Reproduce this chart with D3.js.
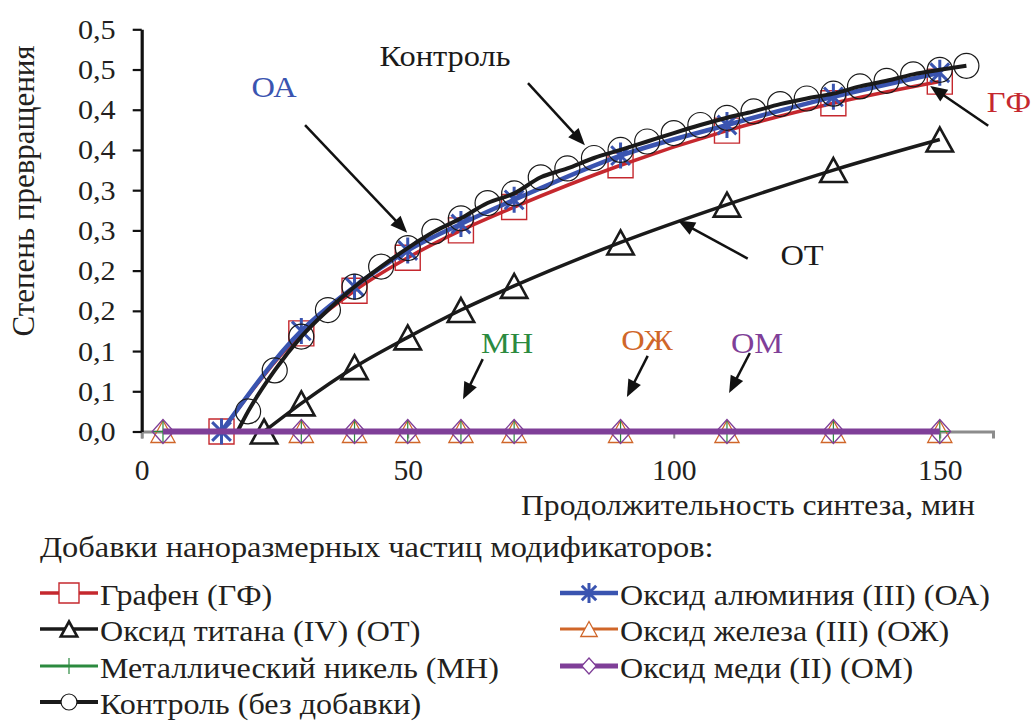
<!DOCTYPE html>
<html><head><meta charset="utf-8">
<script src="https://cdn.jsdelivr.net/npm/d3@7"></script>
<style>
body{margin:0;background:#fff}
svg{display:block}
</style>
</head><body>
<svg id="chart" width="1032" height="722"></svg>
<script>
// ---------------- DATA ----------------
const timeMain = [15, 30, 40, 50, 60, 70, 90, 110, 130, 150];
const valGF = [0, 0.122, 0.175, 0.216, 0.25, 0.279, 0.331, 0.374, 0.408, 0.435];
const valOA = [0, 0.125, 0.18, 0.225, 0.258, 0.288, 0.343, 0.381, 0.416, 0.446];
const timeOT = [23, 30, 40, 50, 60, 70, 90, 110, 130, 150];
const valOT = [0, 0.035, 0.08, 0.117, 0.151, 0.181, 0.235, 0.282, 0.325, 0.363];
const timeFlat = [4, 30, 40, 50, 60, 70, 90, 110, 130, 150];
const valOZh = [0, 0, 0, 0, 0, 0, 0, 0, 0, 0];
const valMN = [0, 0, 0, 0, 0, 0, 0, 0, 0, 0];
const valOM = [0, 0, 0, 0, 0, 0, 0, 0, 0, 0];
const timeControl = [20, 25, 30, 35, 40, 45, 50, 55, 60, 65, 70, 75, 80, 85, 90, 95, 100, 105, 110, 115, 120, 125, 130, 135, 140, 145, 150, 155];
const valControl = [0.025, 0.076, 0.118, 0.151, 0.18, 0.205, 0.228, 0.2485, 0.265, 0.284, 0.296, 0.316, 0.327, 0.34, 0.35, 0.3605, 0.371, 0.381, 0.39, 0.398, 0.407, 0.414, 0.42, 0.429, 0.436, 0.444, 0.4496, 0.4546];
const controlLineStart = [18, 0]; // where the drawn control curve leaves the axis

const xTicks = [0, 50, 100, 150];
const xTickLabels = ["0", "50", "100", "150"];
const yTicks = [0, 0.05, 0.1, 0.15, 0.2, 0.25, 0.3, 0.35, 0.4, 0.45, 0.5];
const yTickLabels = ["0,0", "0,1", "0,1", "0,2", "0,2", "0,3", "0,3", "0,4", "0,4", "0,5", "0,5"];

const xTitle = "Продолжительность синтеза, мин";
const yTitle = "Степень превращения";
const legendTitle = "Добавки наноразмерных частиц модификаторов:";
const seriesNames = ["Графен (ГФ)", "Оксид алюминия (III) (ОА)", "Оксид титана (IV) (ОТ)", "Оксид железа (III) (ОЖ)", "Металлический никель (МН)", "Оксид меди (II) (ОМ)", "Контроль (без добавки)"];
const annoLabels = ["Контроль", "ОА", "ГФ", "ОТ", "МН", "ОЖ", "ОМ"];

// ---------------- LAYOUT ----------------
const FONT = '"Liberation Serif"';
const TXT = "#231f20";
const svg = d3.select("#chart");
const x = d3.scaleLinear().domain([0, 160]).range([141.7, 993]);
const y = d3.scaleLinear().domain([0, 0.5]).range([431.5, 29.3]);

const C = {
  red: "#c5282e", blue: "#3a54b0", black: "#1a1a1a", orange: "#d06629",
  green: "#2b8a3f", purple: "#7f3f98"
};

const zip = (xs, ys) => xs.map((t, i) => [t, ys[i]]);
// text placed at (px,py), slightly widened horizontally like the reference typesetting
function label(parent, str, px, py, size, sx, anchor, color) {
  return parent.append("text")
    .attr("transform", `translate(${px},${py}) scale(${sx},1)`)
    .attr("font-family", FONT).attr("font-size", size)
    .attr("fill", color || TXT).attr("text-anchor", anchor || "start").text(str);
}

const shapes = {
  square: s => `M${-s/2},${-s/2}h${s}v${s}h${-s}Z`,
  triangle: s => `M0,${-s/2}L${s*0.55},${s/2}L${-s*0.55},${s/2}Z`,
  diamond: s => `M0,${-s/2}L${s*0.45},0L0,${s/2}L${-s*0.45},0Z`,
  plus: s => `M0,${-s/2}V${s/2}M${-s/2},0H${s/2}`,
  asterisk: s => { const h = s/2, d = s*0.36; return `M0,${-h}V${h}M${-d},${-d}L${d},${d}M${-d},${d}L${d},${-d}`; },
  circle: s => { const r = s/2; return `M${r},0A${r},${r} 0 1,1 ${-r},0A${r},${r} 0 1,1 ${r},0Z`; }
};

const series = [
  { name: seriesNames[0], pts: zip(timeMain, valGF), color: C.red, lw: 3.5, shape: "square", size: 25, mw: 1.4, lsize: 20 },
  { name: seriesNames[1], pts: zip(timeMain, valOA), color: C.blue, lw: 4.5, shape: "asterisk", size: 26, mw: 3, lsize: 20 },
  { name: seriesNames[2], pts: zip(timeOT, valOT), color: C.black, lw: 3.5, shape: "triangle", size: 24, mw: 2.6, lsize: 15 },
  { name: seriesNames[3], pts: zip(timeFlat, valOZh), color: C.orange, lw: 0, shape: "triangle", size: 22, mw: 1.3, lsize: 15 },
  { name: seriesNames[4], pts: zip(timeFlat, valMN), color: C.green, lw: 0, shape: "plus", size: 22, mw: 1.2, lsize: 16 },
  { name: seriesNames[5], pts: zip(timeFlat, valOM), color: C.purple, lw: 6, shape: "diamond", size: 24, mw: 1.3, lsize: 16 },
  { name: seriesNames[6], pts: zip(timeControl, valControl), color: C.black, lw: 4, shape: "circle", size: 25, mw: 1.2, lsize: 16,
    linePts: [controlLineStart].concat(zip(timeControl, valControl)) }
];

// ---------------- AXES ----------------
const gx = svg.append("g").attr("transform", `translate(0,${y(0)})`)
  .call(d3.axisBottom(x).tickValues(xTicks).tickFormat((d, i) => xTickLabels[i]).tickSize(7).tickPadding(20));
gx.attr("font-family", FONT).attr("font-size", 29);
gx.select(".domain").attr("stroke", "#8c8c8c").attr("stroke-width", 3);
gx.selectAll(".tick line").attr("stroke", "#8c8c8c").attr("stroke-width", 2);
gx.selectAll(".tick text").attr("font-family", FONT).attr("font-size", 29).attr("fill", TXT)
  .attr("y", null).attr("dy", null).attr("transform", "translate(0,48) scale(1.02,1)");

const gy = svg.append("g").attr("transform", `translate(${x(0)},0)`)
  .call(d3.axisLeft(y).tickValues(yTicks).tickFormat((d, i) => yTickLabels[i]).tickSize(9).tickSizeOuter(0).tickPadding(17));
gy.attr("font-family", FONT).attr("font-size", 27);
gy.select(".domain").attr("stroke", "#111").attr("stroke-width", 3.2);
gy.selectAll(".tick line").attr("stroke", "#111").attr("stroke-width", 2.2);
gy.selectAll(".tick text").attr("font-family", FONT).attr("font-size", 27).attr("fill", TXT)
  .attr("x", null).attr("dy", null).attr("transform", "translate(-26,9) scale(1.12,1)");

svg.append("text").attr("transform", `translate(34,191) rotate(-90)`)
  .attr("font-family", FONT).attr("font-size", 31).attr("fill", TXT)
  .attr("text-anchor", "middle").text(yTitle);
label(svg, xTitle, 748, 515, 30, 1.055, "middle");

// ---------------- PLOT ----------------
const line = d3.line().x(d => x(d[0])).y(d => y(d[1])).curve(d3.curveMonotoneX);
const plot = svg.append("g");

function drawMarkers(s) {
  plot.append("g").selectAll("path").data(s.pts).join("path")
    .attr("transform", d => `translate(${x(d[0])},${y(d[1])})`)
    .attr("d", shapes[s.shape](s.size))
    .attr("fill", "none").attr("stroke", s.color).attr("stroke-width", s.mw);
}
function drawLine(s) {
  if (!s.lw) return;
  plot.append("path").datum(s.linePts || s.pts).attr("d", line)
    .attr("fill", "none").attr("stroke", s.color).attr("stroke-width", s.lw)
    .attr("stroke-linejoin", "round");
}
[3, 4, 5].forEach(i => drawMarkers(series[i]));
[0, 1, 2].forEach(i => { drawLine(series[i]); drawMarkers(series[i]); });
drawMarkers(series[6]);
drawLine(series[6]);
drawLine(series[5]);

// ---------------- ANNOTATIONS ----------------
const annos = [
  { label: annoLabels[0], color: C.black, tx: 445, ty: 66, tail: [72.6, 0.433], tip: [83.3, 0.356] },
  { label: annoLabels[1], color: C.blue, tx: 274, ty: 97, tail: [30.7, 0.381], tip: [49.9, 0.247] },
  { label: annoLabels[2], color: C.red, tx: 1009, ty: 112, tail: [159.1, 0.380], tip: [148.2, 0.4295] },
  { label: annoLabels[3], color: C.black, tx: 802, ty: 265, tail: [113.9, 0.215], tip: [100.8, 0.2622] },
  { label: annoLabels[4], color: C.green, tx: 507, ty: 353, tail: [64.1, 0.090], tip: [60.4, 0.040] },
  { label: annoLabels[5], color: C.orange, tx: 647, ty: 350, tail: [95.1, 0.094], tip: [91.2, 0.043] },
  { label: annoLabels[6], color: C.purple, tx: 757, ty: 353, tail: [114.3, 0.0976], tip: [110.4, 0.0479] }
];
const ag = svg.append("g");
annos.forEach(a => {
  label(ag, a.label, a.tx, a.ty, 30, 1.08, "middle", a.color);
  const x1 = x(a.tail[0]), y1 = y(a.tail[1]), x2 = x(a.tip[0]), y2 = y(a.tip[1]);
  const dx = x2 - x1, dy = y2 - y1, L = Math.hypot(dx, dy), ux = dx / L, uy = dy / L;
  const hl = 17, hw = 7;
  ag.append("line").attr("x1", x1).attr("y1", y1).attr("x2", x2 - ux * hl * 0.8).attr("y2", y2 - uy * hl * 0.8)
    .attr("stroke", "#111").attr("stroke-width", 2.5);
  const bx = x2 - ux * hl, by = y2 - uy * hl;
  ag.append("path").attr("d", `M${x2},${y2}L${bx - uy * hw},${by + ux * hw}L${bx + uy * hw},${by - ux * hw}Z`)
    .attr("fill", "#111");
});

// ---------------- LEGEND ----------------
const lg = svg.append("g");
label(lg, legendTitle, 40, 557, 30, 1.08);
const rowY = [605, 641, 678, 714];
series.forEach((s, k) => {
  const col = k < 6 ? k % 2 : 0, row = Math.floor(k / 2);
  const x0 = col === 0 ? 40 : 560, by = rowY[row], cy = by - 12;
  lg.append("line").attr("x1", x0).attr("x2", x0 + 58).attr("y1", cy).attr("y2", cy)
    .attr("stroke", s.color).attr("stroke-width", s.lw ? Math.min(s.lw, 5) : 3);
  lg.append("path").attr("transform", `translate(${x0 + 29},${cy})`)
    .attr("d", shapes[s.shape](s.lsize)).attr("fill", s.shape === "asterisk" ? "none" : "#fff")
    .attr("stroke", s.color).attr("stroke-width", s.shape === "asterisk" ? 3 : s.mw);
  label(lg, s.name, x0 + 60, by, 30, 1.07);
});
</script>
</body></html>
